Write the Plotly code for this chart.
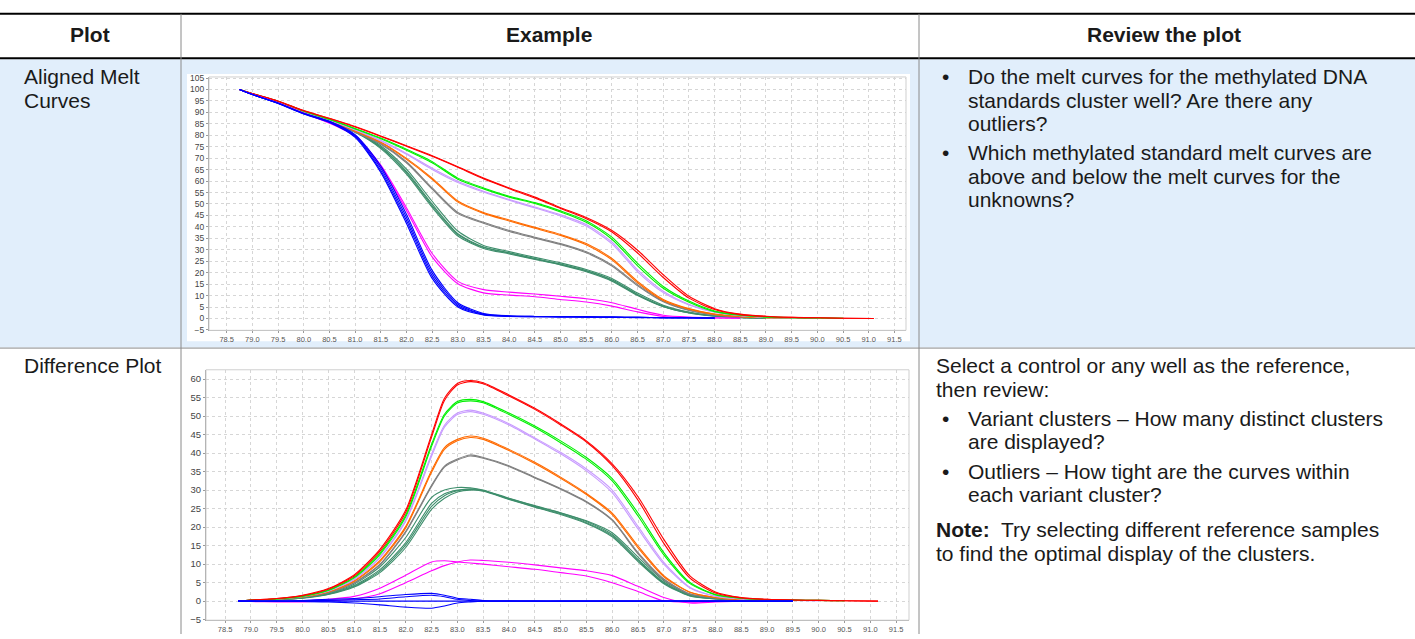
import plotly.graph_objects as go

W, H = 1415, 639

# ---------------- data: aligned melt curves ----------------
MELT_T = [78.75, 79.0, 79.5, 80.0, 80.5, 81.0, 81.5, 82.0, 82.5, 83.0, 83.5, 84.0, 84.5,
          85.0, 85.5, 86.0, 86.5, 87.0, 87.5, 88.0, 88.5, 89.0, 89.5, 90.0, 90.5, 91.1]

MELT_RED_1 = [100, 98.2, 95.0, 90.8, 87.4, 83.8, 79.7, 75.4, 71.1, 66.3, 61.3, 57.0, 53.0, 48.4, 44.1, 38.4, 29.8, 19.1, 9.7, 4.3, 1.9, 1.0, 0.5, 0.3, 0.1, 0.0]
MELT_RED_2 = [100, 98.2, 94.9, 90.7, 87.3, 83.6, 79.5, 75.2, 70.8, 66.0, 61.0, 56.7, 52.6, 48.0, 43.6, 37.8, 28.6, 17.9, 8.9, 3.9, 1.7, 0.9, 0.5, 0.3, 0.1, 0.0]
MELT_GREEN_1 = [100, 98.2, 94.9, 90.6, 87.0, 83.0, 78.8, 73.9, 68.5, 61.3, 57.0, 53.4, 50.6, 47.0, 42.7, 35.5, 24.1, 14.0, 7.6, 3.3, 1.5, 0.7, 0.4, 0.2, 0.1]
MELT_GREEN_2 = [100, 98.1, 94.8, 90.5, 86.9, 82.8, 78.5, 73.5, 68.0, 60.8, 56.6, 53.0, 50.2, 46.5, 42.0, 34.6, 23.0, 13.2, 7.1, 3.0, 1.4, 0.6, 0.3, 0.2, 0.1]
MELT_LAV_1 = [100, 98.1, 94.7, 90.4, 86.7, 82.5, 77.8, 72.1, 65.6, 59.9, 55.6, 52.0, 48.7, 45.3, 41.0, 33.4, 21.2, 11.9, 6.2, 2.9, 1.3, 0.6, 0.3, 0.1]
MELT_LAV_2 = [100, 98.1, 94.7, 90.3, 86.6, 82.3, 77.5, 71.7, 65.1, 59.4, 55.2, 51.6, 48.3, 44.8, 40.4, 32.6, 20.4, 11.3, 5.9, 2.7, 1.2, 0.5, 0.3, 0.1]
MELT_ORANGE_1 = [100, 98.1, 94.6, 90.2, 86.4, 82.0, 77.1, 69.9, 61.3, 51.3, 46.3, 43.0, 39.8, 36.7, 32.7, 26.2, 16.2, 8.3, 4.3, 1.9, 0.9, 0.4, 0.2]
MELT_ORANGE_2 = [100, 98.0, 94.6, 90.2, 86.3, 81.8, 76.8, 69.5, 60.8, 50.8, 45.9, 42.6, 39.4, 36.3, 32.2, 25.6, 15.6, 7.9, 4.1, 1.8, 0.8, 0.4, 0.2]
MELT_GRAY_1 = [100, 98.0, 94.5, 90.1, 86.2, 81.5, 76.4, 68.5, 57.0, 46.3, 42.0, 38.4, 35.5, 32.7, 29.1, 23.4, 14.8, 7.6, 3.7, 1.7, 0.8, 0.4, 0.2]
MELT_GRAY_2 = [100, 98.0, 94.5, 90.0, 86.1, 81.3, 76.1, 68.0, 56.5, 45.8, 41.6, 38.0, 35.1, 32.3, 28.7, 22.9, 14.3, 7.3, 3.5, 1.6, 0.8, 0.4, 0.2]
MELT_TEAL_1 = [100, 98.0, 94.4, 90.0, 86.0, 81.7, 74.9, 64.2, 49.9, 37.0, 31.2, 28.7, 26.2, 23.8, 20.9, 16.9, 10.5, 5.4, 2.6, 1.1, 0.5, 0.2]
MELT_TEAL_2 = [100, 98.0, 94.3, 89.9, 85.8, 81.3, 74.2, 63.0, 48.5, 36.0, 30.6, 28.2, 25.8, 23.4, 20.4, 16.3, 10.0, 5.1, 2.4, 1.0, 0.4, 0.2]
MELT_TEAL_3 = [100, 98.0, 94.4, 90.0, 86.0, 81.9, 75.4, 65.2, 51.2, 38.2, 31.9, 29.2, 26.7, 24.3, 21.4, 17.5, 11.1, 5.8, 2.8, 1.2, 0.5, 0.2]
MELT_TEAL_4 = [100, 98.0, 94.4, 89.9, 85.9, 81.5, 74.6, 63.7, 49.2, 36.6, 31.0, 28.5, 26.0, 23.6, 20.7, 16.6, 10.3, 5.3, 2.5, 1.1, 0.5, 0.2]
MELT_MAG_1 = [100, 97.9, 94.2, 89.7, 85.5, 79.9, 67.0, 48.4, 28.4, 16.2, 12.6, 11.5, 10.7, 9.7, 8.6, 6.9, 4.0, 1.4, 0.6, 0.3, 0.1]
MELT_MAG_2 = [100, 97.9, 94.2, 89.6, 85.3, 79.5, 66.2, 47.2, 26.9, 15.2, 11.2, 10.2, 9.5, 8.3, 7.2, 5.4, 2.9, 0.9, 0.4, 0.2, 0.1]
MELT_BLUE_1 = [100, 97.8, 94.0, 89.5, 86.0, 79.9, 65.6, 44.1, 19.8, 6.2, 1.9, 1.1, 0.9, 0.8, 0.7, 0.6, 0.5, 0.4, 0.3, 0.2]
MELT_BLUE_2 = [100, 97.8, 94.0, 89.4, 85.8, 79.5, 64.6, 42.8, 18.6, 5.6, 1.7, 1.0, 0.8, 0.7, 0.7, 0.6, 0.5, 0.4, 0.3, 0.2]
MELT_BLUE_3 = [100, 97.8, 93.9, 89.3, 85.6, 79.1, 63.8, 41.5, 17.5, 5.0, 1.5, 0.9, 0.8, 0.7, 0.6, 0.5, 0.4, 0.3, 0.2, 0.1]
MELT_BLUE_4 = [100, 97.8, 94.1, 89.6, 86.1, 80.3, 66.6, 45.5, 21.0, 6.9, 2.2, 1.2, 0.9, 0.8, 0.7, 0.6, 0.5, 0.4, 0.3, 0.2]

# ---------------- data: difference plot ----------------
DIFF_T = [78.75, 79.0, 79.5, 80.0, 80.5, 81.0, 81.5, 82.0, 82.5, 82.75, 83.0, 83.25, 83.5, 84.0,
          84.5, 85.0, 85.5, 86.0, 86.5, 87.0, 87.5, 88.0, 88.5, 89.0, 89.5, 90.0, 90.5, 91.15]

DIFF_RED_1 = [0, 0.3, 0.7, 1.6, 3.4, 7.1, 14.0, 24.6, 45.0, 54.8, 58.8, 59.6, 59.0, 55.7, 52.1, 47.9, 43.3, 37.1, 28.2, 16.7, 6.9, 2.5, 1.0, 0.5, 0.3, 0.2, 0.1, 0.0]
DIFF_RED_2 = [0, 0.3, 0.7, 1.5, 3.2, 6.8, 13.5, 24.0, 44.3, 54.2, 58.4, 59.3, 58.7, 55.4, 51.8, 47.6, 43.0, 36.6, 27.3, 15.6, 6.3, 2.2, 0.9, 0.5, 0.3, 0.2, 0.1, 0.0]
DIFF_GREEN_1 = [0, 0.3, 0.6, 1.4, 3.0, 6.5, 13.0, 23.3, 42.4, 50.5, 53.9, 54.5, 53.9, 50.8, 47.3, 43.3, 38.8, 33.1, 23.8, 13.1, 5.1, 1.8, 0.8, 0.4, 0.3, 0.2, 0.1]
DIFF_GREEN_2 = [0, 0.3, 0.6, 1.3, 2.9, 6.3, 12.6, 22.8, 41.8, 50.0, 53.5, 54.1, 53.6, 50.4, 46.9, 42.8, 38.3, 32.5, 23.0, 12.5, 4.8, 1.7, 0.8, 0.4, 0.3, 0.2, 0.1]
DIFF_LAV_1 = [0, 0.3, 0.6, 1.3, 2.8, 6.0, 12.0, 22.0, 39.7, 47.5, 50.8, 51.6, 50.8, 47.9, 44.1, 40.2, 35.7, 30.0, 20.2, 10.5, 3.8, 1.4, 0.6, 0.3, 0.2, 0.1]
DIFF_LAV_2 = [0, 0.3, 0.6, 1.3, 2.7, 5.8, 11.7, 21.6, 39.1, 47.0, 50.4, 51.2, 50.5, 47.6, 43.8, 39.8, 35.2, 29.3, 19.5, 10.0, 3.6, 1.3, 0.6, 0.3, 0.2, 0.1]
DIFF_ORANGE_1 = [0, 0.3, 0.6, 1.2, 2.6, 5.5, 11.0, 20.2, 35.3, 41.5, 43.7, 44.6, 44.0, 41.0, 37.5, 33.5, 29.1, 23.8, 14.9, 6.9, 2.5, 1.0, 0.4, 0.2, 0.1]
DIFF_ORANGE_2 = [0, 0.3, 0.6, 1.2, 2.5, 5.3, 10.7, 19.8, 34.8, 41.0, 43.3, 44.2, 43.7, 40.7, 37.2, 33.2, 28.8, 23.4, 14.4, 6.6, 2.4, 1.0, 0.4, 0.2, 0.1]
DIFF_GRAY_1 = [0, 0.2, 0.5, 1.1, 2.4, 5.0, 10.0, 18.9, 31.3, 36.5, 38.4, 39.5, 38.8, 36.6, 33.5, 30.4, 26.9, 22.0, 13.1, 6.0, 2.0, 0.9, 0.4, 0.2, 0.1]
DIFF_GRAY_2 = [0, 0.2, 0.5, 1.1, 2.3, 4.9, 9.8, 18.6, 31.0, 36.2, 38.1, 39.2, 38.6, 36.4, 33.3, 30.2, 26.7, 21.8, 12.8, 5.8, 1.9, 0.9, 0.4, 0.2, 0.1]
DIFF_TEAL_1 = [0, 0.2, 0.4, 0.9, 2.0, 4.2, 8.5, 15.8, 26.4, 29.0, 30.0, 30.2, 29.8, 27.7, 25.7, 23.8, 21.5, 18.0, 11.3, 5.1, 1.6, 0.7, 0.3, 0.1]
DIFF_TEAL_2 = [0, 0.2, 0.5, 1.0, 2.2, 4.6, 9.3, 17.2, 28.0, 30.0, 30.7, 30.6, 30.0, 27.8, 25.8, 23.9, 21.7, 18.5, 11.9, 5.5, 1.8, 0.7, 0.3, 0.1]
DIFF_TEAL_3 = [0, 0.2, 0.4, 0.8, 1.8, 3.8, 7.7, 14.5, 24.8, 27.8, 29.5, 30.0, 29.7, 27.5, 25.4, 23.4, 21.0, 17.4, 10.7, 4.7, 1.4, 0.6, 0.3, 0.1]
DIFF_TEAL_4 = [0, 0.2, 0.4, 0.9, 1.9, 4.0, 8.1, 15.2, 25.6, 28.5, 29.8, 30.3, 29.9, 27.6, 25.5, 23.6, 21.2, 17.7, 11.0, 4.9, 1.5, 0.6, 0.3, 0.1]
DIFF_MAG_1 = [0, 0.0, 0.0, 0.1, 0.5, 1.3, 3.5, 7.0, 10.6, 10.9, 10.6, 10.3, 10.0, 9.3, 8.6, 7.7, 6.8, 5.0, 2.6, 0.1, -0.3, 0.0, 0.0]
DIFF_MAG_2 = [0, -0.1, -0.2, -0.2, 0.1, 0.6, 2.0, 5.0, 8.2, 9.6, 10.6, 11.1, 11.0, 10.5, 9.8, 9.0, 8.2, 6.9, 4.0, 1.0, -0.5, -0.2, 0.0]
DIFF_BLUE_1 = [0, 0.0, 0.0, 0.2, 0.5, 0.7, 1.2, 1.8, 2.1, 1.6, 0.8, 0.5, 0.2, 0.1, 0.0, 0.0, 0.0, 0.0, 0.0, 0.0, 0.0, 0.0, 0.0, 0.0, 0.0]
DIFF_BLUE_2 = [0, 0.0, 0.0, 0.1, 0.2, 0.4, 0.6, 1.2, 1.6, 1.2, 0.5, 0.2, 0.0, 0.0, 0.0, 0.0, 0.0, 0.0, 0.0, 0.0, 0.0, 0.0, 0.0, 0.0, 0.0]
DIFF_BLUE_3 = [0, 0.0, 0.0, -0.1, -0.2, -0.5, -1.0, -1.6, -1.9, -1.3, -0.5, -0.2, 0.0, 0.0, 0.0, 0.0, 0.0, 0.0, 0.0, 0.0, 0.0, 0.0, 0.0, 0.0, 0.0]
DIFF_BLUE_REF = [0, 0.0, 0.0, 0.0, 0.0, 0.0, 0.0, 0.0, 0.0, 0.0, 0.0, 0.0, 0.0, 0.0, 0.0, 0.0, 0.0, 0.0, 0.0, 0.0, 0.0, 0.0, 0.0, 0.0, 0.0]

# ---------------- ticks ----------------
X_TICKS = [78.5, 79.0, 79.5, 80.0, 80.5, 81.0, 81.5, 82.0, 82.5, 83.0, 83.5, 84.0, 84.5, 85.0,
           85.5, 86.0, 86.5, 87.0, 87.5, 88.0, 88.5, 89.0, 89.5, 90.0, 90.5, 91.0, 91.5]
MELT_Y_TICKS = [-5, 0, 5, 10, 15, 20, 25, 30, 35, 40, 45, 50, 55, 60, 65, 70, 75, 80, 85, 90, 95, 100, 105]
DIFF_Y_TICKS = [-5, 0, 5, 10, 15, 20, 25, 30, 35, 40, 45, 50, 55, 60]

# ---------------- text ----------------
HEADERS = ["Plot", "Example", "Review the plot"]
ROW1_LABEL = ["Aligned Melt", "Curves"]
ROW2_LABEL = ["Difference Plot"]
ROW1_BULLETS = [["Do the melt curves for the methylated DNA", "standards cluster well? Are there any", "outliers?"],
                ["Which methylated standard melt curves are", "above and below the melt curves for the", "unknowns?"]]
ROW2_INTRO = ["Select a control or any well as the reference,", "then review:"]
ROW2_BULLETS = [["Variant clusters \u2013 How many distinct clusters", "are displayed?"],
                ["Outliers \u2013 How tight are the curves within", "each variant cluster?"]]
ROW2_NOTE = ["<b>Note:</b>\u00a0 Try selecting different reference samples", "to find the optimal display of the clusters."]

COLORS = {"red": "#FF0000", "green": "#00F000", "lav": "#C89BFF", "orange": "#FF6A00",
          "gray": "#7F7F7F", "teal": "#3E8E6C", "mag": "#FF00FF", "blue": "#0000FF"}

fig = go.Figure()


def add(T, vals, color, ax):
    fig.add_trace(go.Scatter(
        x=T[:len(vals)], y=vals, mode="lines",
        line=dict(color=color, width=1.1, shape="spline", smoothing=0.7),
        xaxis="x" if ax == 1 else "x2", yaxis="y" if ax == 1 else "y2",
        hoverinfo="skip", showlegend=False))


melt_series = [
    (MELT_TEAL_1, "teal"), (MELT_TEAL_2, "teal"), (MELT_TEAL_3, "teal"), (MELT_TEAL_4, "teal"),
    (MELT_GRAY_1, "gray"), (MELT_GRAY_2, "gray"),
    (MELT_ORANGE_1, "orange"), (MELT_ORANGE_2, "orange"),
    (MELT_LAV_1, "lav"), (MELT_LAV_2, "lav"),
    (MELT_GREEN_1, "green"), (MELT_GREEN_2, "green"),
    (MELT_RED_1, "red"), (MELT_RED_2, "red"),
    (MELT_MAG_1, "mag"), (MELT_MAG_2, "mag"),
    (MELT_BLUE_1, "blue"), (MELT_BLUE_2, "blue"), (MELT_BLUE_3, "blue"), (MELT_BLUE_4, "blue"),
]
for vals, c in melt_series:
    add(MELT_T, vals, COLORS[c], 1)

diff_series = [
    (DIFF_TEAL_1, "teal"), (DIFF_TEAL_2, "teal"), (DIFF_TEAL_3, "teal"), (DIFF_TEAL_4, "teal"),
    (DIFF_GRAY_1, "gray"), (DIFF_GRAY_2, "gray"),
    (DIFF_ORANGE_1, "orange"), (DIFF_ORANGE_2, "orange"),
    (DIFF_LAV_1, "lav"), (DIFF_LAV_2, "lav"),
    (DIFF_GREEN_1, "green"), (DIFF_GREEN_2, "green"),
    (DIFF_RED_1, "red"), (DIFF_RED_2, "red"),
    (DIFF_MAG_1, "mag"), (DIFF_MAG_2, "mag"),
    (DIFF_BLUE_1, "blue"), (DIFF_BLUE_2, "blue"), (DIFF_BLUE_3, "blue"), (DIFF_BLUE_REF, "blue"),
]
for vals, c in diff_series:
    add(DIFF_T, vals, COLORS[c], 2)


def px(x):
    return x / W


def py(y):
    return 1 - y / H


FONT = "Liberation Sans, Arial, sans-serif"
TEXT_COLOR = "#1a1a1a"

shapes = [
    dict(type="rect", xref="paper", yref="paper", x0=0, x1=1, y0=py(348.5), y1=py(56),
         fillcolor="#E1EEFB", line=dict(width=0), layer="below"),
    dict(type="rect", xref="paper", yref="paper", x0=px(187), x1=px(910), y0=py(342), y1=py(71),
         fillcolor="#FFFFFF", line=dict(width=0), layer="below"),
    dict(type="line", xref="paper", yref="paper", x0=0, x1=1, y0=py(10), y1=py(10),
         line=dict(color="#000000", width=2)),
    dict(type="line", xref="paper", yref="paper", x0=0, x1=1, y0=py(55), y1=py(55),
         line=dict(color="#000000", width=2)),
    dict(type="line", xref="paper", yref="paper", x0=px(181), x1=px(181), y0=py(10), y1=0,
         line=dict(color="#8a8a8a", width=1)),
    dict(type="line", xref="paper", yref="paper", x0=px(919), x1=px(919), y0=py(10), y1=0,
         line=dict(color="#8a8a8a", width=1)),
    dict(type="line", xref="paper", yref="paper", x0=0, x1=1, y0=py(349), y1=py(349),
         line=dict(color="#8a8a8a", width=1)),
    dict(type="rect", xref="x domain", yref="y domain", x0=0, x1=1, y0=0, y1=1,
         line=dict(color="#cfcfcf", width=1)),
    dict(type="rect", xref="x2 domain", yref="y2 domain", x0=0, x1=1, y0=0, y1=1,
         line=dict(color="#cfcfcf", width=1)),
]

annotations = []


def txt(text, x, y, size=21, anchor="left", bold=False):
    annotations.append(dict(
        text=("<b>%s</b>" % text) if bold else text, x=px(x), y=py(y), xref="paper", yref="paper",
        xanchor=anchor, yanchor="middle", showarrow=False,
        font=dict(family=FONT, size=size, color=TEXT_COLOR)))


FS = 21
# header
txt(HEADERS[0], 90, 31, FS, "center", True)
txt(HEADERS[1], 549, 31, FS, "center", True)
txt(HEADERS[2], 1164, 31, FS, "center", True)

LH = 23.5
# left column
y = 74
for line in ROW1_LABEL:
    txt(line, 22, y, FS)
    y += LH
txt(ROW2_LABEL[0], 22, 367, FS)

# right column row 1
y = 74
for para in ROW1_BULLETS:
    txt("\u2022", 945, y, FS, "center")
    for line in para:
        txt(line, 966, y, FS)
        y += LH
    y += 6.5

# right column row 2
y = 367
for line in ROW2_INTRO:
    txt(line, 934, y, FS)
    y += LH
y += 6.5
for para in ROW2_BULLETS:
    txt("\u2022", 945, y, FS, "center")
    for line in para:
        txt(line, 966, y, FS)
        y += LH
    y += 6.5
y += 6
for line in ROW2_NOTE:
    txt(line, 934, y, FS)
    y += LH

axis_common = dict(showgrid=True, gridcolor="#d6d6d6", griddash="dot", gridwidth=1,
                   zeroline=False, showline=True, linecolor="#9a9a9a", linewidth=1,
                   ticks="outside", ticklen=2, tickcolor="#9a9a9a")

fig.update_layout(
    width=W, height=H, margin=dict(l=0, r=0, t=0, b=0),
    paper_bgcolor="#FFFFFF", plot_bgcolor="#FFFFFF",
    shapes=shapes, annotations=annotations, showlegend=False,
    xaxis=dict(domain=[px(209), px(906)], anchor="y", range=[78.155, 91.726],
               tickvals=X_TICKS, tickformat=".1f",
               tickfont=dict(family=FONT, size=7.5, color="#555555"), **axis_common),
    yaxis=dict(domain=[py(331), py(74)], anchor="x", range=[-5.17, 105.47],
               tickvals=MELT_Y_TICKS,
               tickfont=dict(family=FONT, size=8.5, color="#444444"), **axis_common),
    xaxis2=dict(domain=[px(206), px(909)], anchor="y2", range=[78.13, 91.75],
                tickvals=X_TICKS, tickformat=".1f",
                tickfont=dict(family=FONT, size=7.5, color="#555555"), **axis_common),
    yaxis2=dict(domain=[py(625), py(371)], anchor="x2", range=[-5.14, 62.5],
                tickvals=DIFF_Y_TICKS,
                tickfont=dict(family=FONT, size=9.5, color="#444444"), **axis_common),
)

fig.write_html("out.html", config={"displayModeBar": False},
               post_script="document.body.style.margin='0px';document.body.style.overflow='hidden';")
